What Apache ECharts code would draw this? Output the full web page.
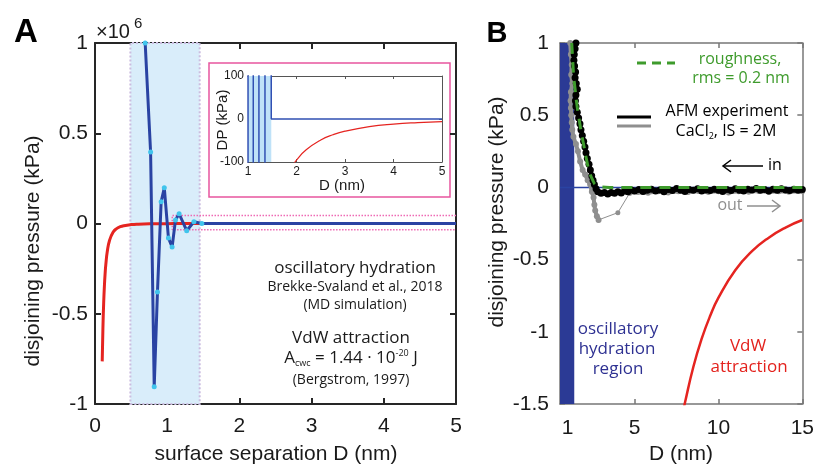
<!DOCTYPE html>
<html><head><meta charset="utf-8">
<script src="https://cdn.jsdelivr.net/npm/echarts@6/dist/echarts.min.js"></script>
<style>html,body{margin:0;padding:0;background:#fff}#c{width:817px;height:466px}</style>
</head><body><div id="c"></div>
<script>
// ---------- DATA ----------
// Panel A: oscillatory hydration (MD simulation), D in nm, P in 10^6 kPa
const oscD = [0.695, 0.77, 0.82, 0.865, 0.916, 0.96, 1.017, 1.068, 1.115, 1.165, 1.27, 1.37, 1.48, 5];
const oscP = [1.0, 0.396, -0.904, -0.38, 0.12, 0.198, -0.08, -0.13, 0.02, 0.054, -0.04, 0.01, 0, 0];
// VdW attraction, D in nm, P in kPa
const vdwD = [0.1, 0.11, 0.12, 0.13, 0.14, 0.15, 0.17, 0.2, 0.25, 0.3, 0.35, 0.4, 0.5, 0.6, 0.8, 1.0, 1.2, 1.5, 1.8, 1.9, 2.0, 2.2, 2.5, 2.75, 3.0, 3.5, 4.0, 4.5, 5.0];
const vdwP = [-763900, -573900, -442100, -347700, -278400, -226300, -155500, -95490, -48890, -28290, -17820, -11940, -6111, -3537, -1492, -763.9, -442.1, -226.3, -131.0, -111.4, -95.5, -71.7, -48.9, -36.7, -28.3, -17.8, -11.9, -8.4, -6.1];
// Panel B VdW, D nm, P kPa
const bVdwD = [7.9, 8, 8.5, 9, 9.5, 10, 11, 12, 13, 14, 15];
const bVdwP = [-1.549, -1.492, -1.244, -1.048, -0.891, -0.764, -0.574, -0.442, -0.348, -0.278, -0.226];
// AFM experiment, approach ("in")
const inD = [1.50,1.45,1.40,1.38,1.42,1.48,1.45,1.52,1.58,1.50,1.47,1.50,1.58,1.66,1.74,1.80,1.88,1.96,2.04,2.10,2.18,2.28,2.36,2.44,2.52,2.60,2.70,2.80,3.0,3.2,3.4,3.6,3.8,4.0,4.2,4.4,4.6,4.8,5.0,5.25,5.5,5.75,6.0,6.25,6.5,6.75,7.0,7.25,7.5,7.75,8.0,8.25,8.5,8.75,9.0,9.25,9.5,9.75,10.0,10.25,10.5,10.75,11.0,11.25,11.5,11.75,12.0,12.25,12.5,12.75,13.0,13.25,13.5,13.75,14.0,14.25,14.5,14.75,15.0];
const inP = [1.0,0.96,0.92,0.88,0.84,0.80,0.76,0.72,0.68,0.64,0.60,0.56,0.52,0.48,0.44,0.40,0.36,0.32,0.28,0.24,0.20,0.16,0.12,0.08,0.05,0.02,-0.01,-0.03,-0.04,-0.035,-0.045,-0.035,-0.04,-0.03,-0.038,-0.025,-0.03,-0.018,-0.025,-0.015,-0.028,-0.02,-0.012,-0.025,-0.018,-0.03,-0.015,-0.022,-0.008,-0.02,-0.028,-0.014,-0.02,-0.01,-0.025,-0.018,-0.022,-0.012,-0.02,-0.028,-0.015,-0.022,-0.01,-0.02,-0.025,-0.012,-0.018,-0.008,-0.02,-0.015,-0.025,-0.012,-0.02,-0.01,-0.018,-0.022,-0.012,-0.02,-0.015];
// AFM experiment, retraction ("out")
const outD = [1.16,1.20,1.25,1.22,1.28,1.20,1.18,1.20,1.22,1.25,1.28,1.35,1.50,1.62,1.75,1.90,2.05,2.20,2.35,2.45,2.55,2.60,2.65,2.75,2.85];
const outP = [1.0,0.92,0.85,0.78,0.72,0.66,0.60,0.55,0.50,0.45,0.40,0.35,0.30,0.25,0.18,0.12,0.09,0.05,0.02,-0.03,-0.07,-0.12,-0.16,-0.20,-0.225];
const outJumpD = [2.85, 4.0, 4.7];
const outJumpP = [-0.225, -0.175, -0.04];
const outTailD = [4.7,5.2,5.8,6.4,7.0,7.6,8.2,8.8,9.4,10,10.6,11.2,11.8,12.4,13,13.6,14.2,15];
const outTailP = [-0.04,-0.035,-0.04,-0.03,-0.038,-0.03,-0.036,-0.028,-0.035,-0.03,-0.038,-0.03,-0.034,-0.028,-0.036,-0.03,-0.034,-0.03];
// Roughness model (rms = 0.2 nm)
const roughD = [1.25,1.30,1.36,1.45,1.55,1.68,1.82,1.97,2.12,2.30,2.50,2.70,3.0,3.5,15];
const roughP = [1.0,0.9,0.78,0.68,0.58,0.48,0.38,0.29,0.20,0.11,0.05,0.015,0.003,0,0];
const zeroLineD = [0.55, 15];
const zeroLineP = [0, 0];
// regions
const bandA = [0.49, 1.45];
const bandInset = [1.0, 1.48];
const bandB = [0.55, 1.4];
const zoomBox = {x0: 1.07, x1: 5, y0: -0.035, y1: 0.045};
const bTicks = [1, 5, 10, 15];

// ---------- CHART ----------
const FONT = '"Liberation Sans", Arial, sans-serif';
const TXT = '"Open Sans", "Noto Sans", sans-serif';
const pairs = (xs, ys, k) => xs.map((x, i) => [x, ys[i] * (k || 1)]);

function axis(kind, grid, min, max, interval, pos, showLabel, color, width, tickLen, fontSize, margin, extra) {
  const a = {
    type: 'value', gridIndex: grid, min: min, max: max, position: pos,
    axisLine: {show: true, onZero: false, lineStyle: {color: color, width: width}},
    axisTick: {show: true, inside: true, length: tickLen, lineStyle: {color: color, width: width}},
    axisLabel: {show: showLabel, fontSize: fontSize, color: '#1a1a1a', fontFamily: FONT, margin: margin},
    splitLine: {show: false}
  };
  if (interval != null) a.interval = interval;
  if (extra) { a.axisLabel.customValues = extra; a.axisTick.customValues = extra; }
  return a;
}

const option = {
  animation: false,
  backgroundColor: '#fff',
  grid: [
    {left: 95, top: 43, width: 361, height: 361},
    {left: 248, top: 76, width: 194, height: 86},
    {left: 560, top: 43, width: 244, height: 361}
  ],
  xAxis: [
    axis('x', 0, 0, 5, 1, 'bottom', true, '#262626', 2, 6, 21, 12),
    axis('x', 0, 0, 5, 1, 'top', false, '#262626', 2, 6, 21, 12),
    axis('x', 1, 1, 5, 1, 'bottom', true, '#555', 1, 3, 12, 4),
    axis('x', 1, 1, 5, 1, 'top', false, '#555', 1, 3, 12, 4),
    axis('x', 2, 0.55, 15, null, 'bottom', true, '#777', 1.5, 5, 21, 14, bTicks),
    axis('x', 2, 0.55, 15, null, 'top', false, '#777', 1.5, 5, 21, 14, bTicks)
  ],
  yAxis: [
    axis('y', 0, -1, 1, 0.5, 'left', true, '#262626', 2, 6, 21, 7),
    axis('y', 0, -1, 1, 0.5, 'right', false, '#262626', 2, 6, 21, 7),
    axis('y', 1, -100, 100, 100, 'left', true, '#555', 1, 3, 12, 4),
    axis('y', 1, -100, 100, 100, 'right', false, '#555', 1, 3, 12, 4),
    axis('y', 2, -1.5, 1, 0.5, 'left', true, '#777', 1.5, 5, 21, 11),
    axis('y', 2, -1.5, 1, 0.5, 'right', false, '#777', 1.5, 5, 21, 11)
  ],
  series: [
    {type: 'line', xAxisIndex: 0, yAxisIndex: 0, data: [[bandA[0], 0]], symbol: 'none', z: 1, silent: true,
     markArea: {silent: true, itemStyle: {color: '#d9edfa', borderColor: '#cbbde0', borderWidth: 2, borderType: 'dotted'},
       data: [[{xAxis: bandA[0], yAxis: -1}, {xAxis: bandA[1], yAxis: 1}]]}},
    {type: 'line', xAxisIndex: 0, yAxisIndex: 0, data: pairs(vdwD, vdwP, 1e-6), symbol: 'none', smooth: true,
     lineStyle: {color: '#e52420', width: 3}, clip: true, z: 3},
    {type: 'line', xAxisIndex: 0, yAxisIndex: 0,
     data: [[zoomBox.x1, zoomBox.y1], [zoomBox.x0, zoomBox.y1], [zoomBox.x0, zoomBox.y0], [zoomBox.x1, zoomBox.y0]],
     symbol: 'none', lineStyle: {color: '#ee6ab4', width: 1.5, type: 'dotted'}, z: 2},
    {type: 'line', xAxisIndex: 0, yAxisIndex: 0,
     data: oscD.map((d, i) => i === oscD.length - 1 ? {value: [d, oscP[i]], symbol: 'none'} : [d, oscP[i]]),
     symbol: 'circle', symbolSize: 5, showSymbol: true, itemStyle: {color: '#41c4ec'},
     lineStyle: {color: '#2a43a3', width: 3}, clip: true, z: 4},
    // inset
    {type: 'line', xAxisIndex: 2, yAxisIndex: 2, data: [[bandInset[0], 0]], symbol: 'none', z: 1, silent: true,
     markArea: {silent: true, itemStyle: {color: '#bfe2f8'},
       data: [[{xAxis: bandInset[0], yAxis: -100}, {xAxis: bandInset[1], yAxis: 100}]]}},
    {type: 'line', xAxisIndex: 2, yAxisIndex: 2, data: pairs(oscD, oscP, 1e6), symbol: 'none',
     lineStyle: {color: '#3150b3', width: 1.5}, clip: true, z: 3},
    {type: 'line', xAxisIndex: 2, yAxisIndex: 2, data: pairs(vdwD, vdwP), symbol: 'none', smooth: true,
     lineStyle: {color: '#e52420', width: 1.2}, clip: true, z: 3},
    // panel B
    {type: 'line', xAxisIndex: 4, yAxisIndex: 4, data: [[bandB[0], 0]], symbol: 'none', z: 1, silent: true,
     markArea: {silent: true, itemStyle: {color: '#2b3a95'},
       data: [[{xAxis: bandB[0], yAxis: -1.5}, {xAxis: bandB[1], yAxis: 1}]]}},
    {type: 'line', xAxisIndex: 4, yAxisIndex: 4, data: pairs(zeroLineD, zeroLineP), symbol: 'none',
     lineStyle: {color: '#2a43a3', width: 1.5}, z: 2},
    {type: 'line', xAxisIndex: 4, yAxisIndex: 4, data: pairs(bVdwD, bVdwP), symbol: 'none', smooth: true,
     lineStyle: {color: '#e52420', width: 2.5}, clip: true, z: 3},
    {type: 'line', xAxisIndex: 4, yAxisIndex: 4, data: pairs(outJumpD, outJumpP), symbol: 'circle', symbolSize: 5,
     itemStyle: {color: '#8f8f8f'}, lineStyle: {color: '#8f8f8f', width: 1}, z: 4},
    {type: 'line', xAxisIndex: 4, yAxisIndex: 4, data: pairs(outTailD, outTailP), symbol: 'circle', symbolSize: 5,
     itemStyle: {color: '#8f8f8f'}, lineStyle: {color: '#8f8f8f', width: 3}, z: 4},
    {type: 'line', xAxisIndex: 4, yAxisIndex: 4, data: pairs(outD, outP), symbol: 'circle', symbolSize: 6,
     itemStyle: {color: '#8f8f8f'}, lineStyle: {color: '#8f8f8f', width: 4}, clip: true, z: 4},
    {type: 'line', xAxisIndex: 4, yAxisIndex: 4, data: pairs(inD, inP), symbol: 'circle', symbolSize: 7,
     itemStyle: {color: '#000'}, lineStyle: {color: '#000', width: 4}, clip: true, z: 5},
    {type: 'line', xAxisIndex: 4, yAxisIndex: 4, data: pairs(roughD, roughP), symbol: 'none', smooth: true,
     lineStyle: {color: '#3e9b2c', width: 3, type: [11, 8]}, clip: true, z: 6}
  ],
  graphic: [
    {type: 'rect', shape: {x: 209, y: 63, width: 241, height: 134}, style: {fill: 'transparent', stroke: '#e8559f', lineWidth: 1.5}, z: 0, silent: true},
    // Panel letters
    {type: 'text', x: 26, y: 33, style: {text: 'A', font: 'bold 33px ' + FONT, fill: '#000', align: 'center', verticalAlign: 'middle'}},
    {type: 'text', x: 497, y: 34, style: {text: 'B', font: 'bold 29px ' + FONT, fill: '#000', align: 'center', verticalAlign: 'middle'}},
    // x10^6
    {type: 'text', x: 96, y: 32, style: {text: '×10', font: '20px ' + FONT, fill: '#1a1a1a', align: 'left', verticalAlign: 'middle'}},
    {type: 'text', x: 134, y: 24, style: {text: '6', font: '15px ' + FONT, fill: '#1a1a1a', align: 'left', verticalAlign: 'middle'}},
    // axis titles A
    {type: 'text', x: 33, y: 251, rotation: Math.PI / 2, style: {text: 'disjoining pressure (kPa)', font: '21px ' + FONT, fill: '#1a1a1a', align: 'center', verticalAlign: 'middle'}},
    {type: 'text', x: 276, y: 454, style: {text: 'surface separation D (nm)', font: '21px ' + FONT, fill: '#1a1a1a', align: 'center', verticalAlign: 'middle'}},
    // inset titles
    {type: 'text', x: 223, y: 120, rotation: Math.PI / 2, style: {text: 'DP (kPa)', font: '15px ' + FONT, fill: '#1a1a1a', align: 'center', verticalAlign: 'middle'}},
    {type: 'text', x: 342, y: 186, style: {text: 'D (nm)', font: '15px ' + FONT, fill: '#1a1a1a', align: 'center', verticalAlign: 'middle'}},
    // annotations A
    {type: 'text', x: 355, y: 268, style: {text: 'oscillatory hydration', font: '17px ' + TXT, fill: '#1a1a1a', align: 'center', verticalAlign: 'middle'}},
    {type: 'text', x: 355, y: 287, style: {text: 'Brekke-Svaland et al., 2018', font: '14px ' + TXT, fill: '#1a1a1a', align: 'center', verticalAlign: 'middle'}},
    {type: 'text', x: 355, y: 305, style: {text: '(MD simulation)', font: '14px ' + TXT, fill: '#1a1a1a', align: 'center', verticalAlign: 'middle'}},
    {type: 'text', x: 351, y: 338, style: {text: 'VdW attraction', font: '17px ' + TXT, fill: '#1a1a1a', align: 'center', verticalAlign: 'middle'}},
    {type: 'text', x: 351, y: 358, style: {text: '{a|A}{s|cwc}{a| = 1.44 · 10}{p|-20}{a| J}', align: 'center', verticalAlign: 'middle',
      rich: {a: {font: '17px ' + TXT, fill: '#1a1a1a'}, s: {font: '9px ' + TXT, fill: '#1a1a1a', padding: [10, 0, 0, 0]}, p: {font: '9px ' + TXT, fill: '#1a1a1a', padding: [0, 0, 10, 0]}}}},
    {type: 'text', x: 351, y: 380, style: {text: '(Bergstrom, 1997)', font: '14px ' + TXT, fill: '#1a1a1a', align: 'center', verticalAlign: 'middle'}},
    // axis titles B
    {type: 'text', x: 497, y: 212, rotation: Math.PI / 2, style: {text: 'disjoining pressure (kPa)', font: '21px ' + FONT, fill: '#1a1a1a', align: 'center', verticalAlign: 'middle'}},
    {type: 'text', x: 681, y: 454, style: {text: 'D (nm)', font: '21px ' + FONT, fill: '#1a1a1a', align: 'center', verticalAlign: 'middle'}},
    // legend B
    {type: 'line', shape: {x1: 637, y1: 63, x2: 675, y2: 63}, style: {stroke: '#3e9b2c', lineWidth: 3, lineDash: [9, 6]}},
    {type: 'text', x: 740, y: 59, style: {text: 'roughness,', font: '16px ' + TXT, fill: '#3e9b2c', align: 'center', verticalAlign: 'middle'}},
    {type: 'text', x: 741, y: 78, style: {text: 'rms = 0.2 nm', font: '16px ' + TXT, fill: '#3e9b2c', align: 'center', verticalAlign: 'middle'}},
    {type: 'line', shape: {x1: 617, y1: 117, x2: 651, y2: 117}, style: {stroke: '#000', lineWidth: 3}},
    {type: 'line', shape: {x1: 617, y1: 126, x2: 651, y2: 126}, style: {stroke: '#8f8f8f', lineWidth: 3}},
    {type: 'text', x: 727, y: 111, style: {text: 'AFM experiment', font: '16px ' + TXT, fill: '#000', align: 'center', verticalAlign: 'middle'}},
    {type: 'text', x: 726, y: 131, style: {text: '{a|CaCl}{s|2}{a|, IS = 2M}', align: 'center', verticalAlign: 'middle',
      rich: {a: {font: '16px ' + TXT, fill: '#000'}, s: {font: '9px ' + TXT, fill: '#000', padding: [10, 0, 0, 0]}}}},
    {type: 'line', shape: {x1: 723, y1: 166, x2: 763, y2: 166}, style: {stroke: '#000', lineWidth: 1.5}},
    {type: 'polyline', shape: {points: [[731, 160], [723, 166], [731, 172]]}, style: {stroke: '#000', lineWidth: 1.5, fill: 'none'}},
    {type: 'text', x: 775, y: 165, style: {text: 'in', font: '16px ' + TXT, fill: '#000', align: 'center', verticalAlign: 'middle'}},
    {type: 'text', x: 730, y: 205, style: {text: 'out', font: '16px ' + TXT, fill: '#8f8f8f', align: 'center', verticalAlign: 'middle'}},
    {type: 'line', shape: {x1: 747, y1: 206, x2: 780, y2: 206}, style: {stroke: '#8f8f8f', lineWidth: 1.5}},
    {type: 'polyline', shape: {points: [[772, 200], [780, 206], [772, 212]]}, style: {stroke: '#8f8f8f', lineWidth: 1.5, fill: 'none'}},
    // region labels B
    {type: 'text', x: 618, y: 329, style: {text: 'oscillatory', font: '17px ' + TXT, fill: '#2e3192', align: 'center', verticalAlign: 'middle'}},
    {type: 'text', x: 617, y: 349, style: {text: 'hydration', font: '17px ' + TXT, fill: '#2e3192', align: 'center', verticalAlign: 'middle'}},
    {type: 'text', x: 618, y: 369, style: {text: 'region', font: '17px ' + TXT, fill: '#2e3192', align: 'center', verticalAlign: 'middle'}},
    {type: 'text', x: 748, y: 346, style: {text: 'VdW', font: '17px ' + TXT, fill: '#e3211c', align: 'center', verticalAlign: 'middle'}},
    {type: 'text', x: 749, y: 367, style: {text: 'attraction', font: '17px ' + TXT, fill: '#e3211c', align: 'center', verticalAlign: 'middle'}}
  ]
};
const chart = echarts.init(document.getElementById('c'));
chart.setOption(option);
</script>
</body></html>
